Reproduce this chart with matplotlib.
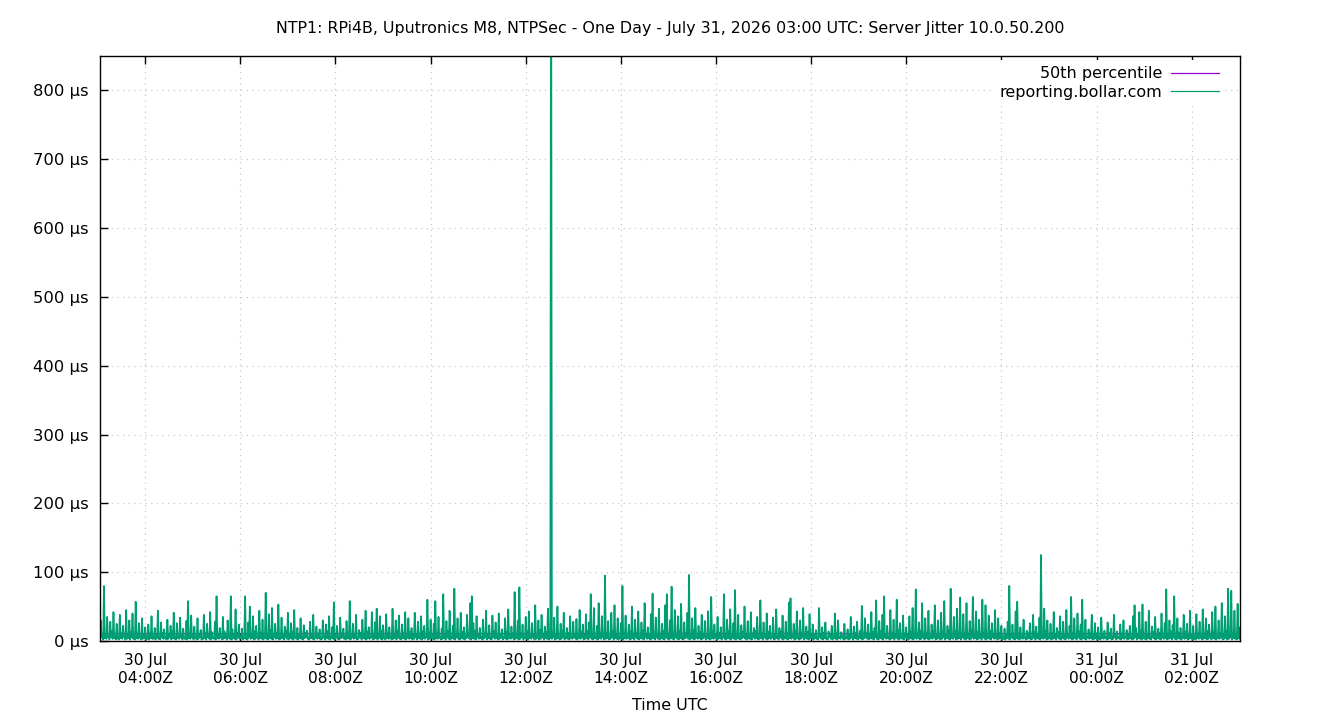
import numpy as np
import pandas as pd
import matplotlib
matplotlib.use("Agg")
import matplotlib.pyplot as plt

plt.rcParams['font.family'] = ['DejaVu Sans']

title = "NTP1: RPi4B, Uputronics M8, NTPSec - One Day - July 31, 2026 03:00 UTC: Server Jitter 10.0.50.200"
start_time = "2026-07-30 03:02"
sample_minutes = 1
median_us = 11

# jitter in microseconds, one row per hour (1-minute samples)
jitter_us = [
    12,3, 30,5, 6,2, 80,4, 9,3, 35,6, 4,2, 28,5, 14,3, 42,4, 7,2, 25,5, 3,2, 38,4, 11,3, 22,6, 5,2, 45,3, 8,4, 30,2, 13,5, 40,3, 6,2, 57,4, 10,3, 26,5, 4,2, 33,3, 9,4, 20,2,
    5,3, 24,2, 11,4, 36,3, 3,5, 19,2, 8,4, 44,3, 6,2, 27,5, 12,3, 17,4, 4,2, 31,3, 9,5, 22,2, 14,4, 41,3, 5,2, 26,4, 7,3, 34,5, 10,2, 18,4, 3,3, 29,2, 58,4, 12,3, 37,5, 8,2,
    21,4, 6,2, 33,3, 9,5, 16,2, 4,3, 38,4, 11,2, 25,5, 7,3, 42,2, 13,4, 5,3, 28,2, 65,4, 10,3, 19,5, 6,2, 35,3, 14,4, 8,2, 30,5, 4,3, 65,2, 17,4, 9,3, 46,2, 12,5, 24,3, 7,4,
    18,2, 5,4, 65,3, 10,2, 27,5, 50,3, 8,4, 36,2, 14,3, 22,5, 6,2, 44,4, 11,3, 31,2, 4,5, 70,3, 9,2, 39,4, 16,3, 48,2, 7,5, 25,3, 12,4, 53,2, 5,3, 34,4, 10,2, 21,5, 15,3, 41,2,
    8,4, 26,3, 13,2, 45,5, 4,3, 19,2, 10,4, 33,3, 6,2, 23,4, 12,5, 15,3, 3,2, 28,4, 9,3, 38,2, 5,5, 21,3, 11,4, 17,2, 4,3, 30,5, 7,2, 24,4, 14,3, 36,2, 6,4, 20,3, 56,2, 9,5,
    22,3, 5,2, 34,4, 11,5, 18,3, 7,2, 29,4, 13,3, 58,2, 6,5, 25,3, 9,4, 38,2, 4,3, 16,5, 12,2, 31,4, 8,3, 44,2, 14,4, 20,3, 5,5, 42,2, 10,3, 27,4, 47,2, 9,5, 36,3, 15,2, 23,4,
    6,2, 39,4, 12,3, 20,5, 4,2, 47,3, 9,4, 30,2, 15,5, 37,3, 7,2, 24,4, 11,3, 42,2, 5,5, 33,3, 13,4, 19,2, 8,3, 41,5, 10,2, 28,4, 4,3, 36,2, 14,4, 22,3, 6,5, 60,2, 11,3, 31,4,
    8,3, 25,2, 58,4, 12,3, 35,5, 5,2, 18,3, 68,4, 9,2, 29,5, 14,3, 44,2, 6,4, 22,3, 76,2, 10,5, 33,3, 4,2, 41,4, 13,3, 20,2, 7,4, 38,5, 11,3, 55,2, 65,4, 26,3, 15,2, 36,5, 9,3,
    19,4, 6,2, 31,3, 12,5, 44,2, 8,4, 23,3, 4,2, 37,5, 14,3, 27,4, 7,2, 40,3, 10,5, 17,2, 5,4, 33,3, 13,2, 46,4, 9,3, 21,5, 11,2, 71,3, 6,4, 30,2, 78,3, 12,5, 24,2, 5,4, 35,3,
    14,2, 43,4, 7,3, 26,5, 10,2, 52,3, 5,4, 30,2, 16,3, 38,5, 9,2, 21,4, 13,3, 47,2, 6,4, 1200,3, 11,5, 34,2, 8,3, 50,4, 4,2, 25,3, 15,5, 41,2, 7,4, 19,3, 12,2, 36,4, 5,3, 28,5,
    10,3, 32,2, 6,4, 45,3, 13,5, 24,2, 8,3, 39,4, 15,2, 27,5, 68,3, 9,2, 48,4, 5,3, 22,2, 55,4, 11,3, 36,5, 7,2, 95,3, 12,4, 29,2, 4,3, 41,5, 14,2, 52,4, 9,3, 33,2, 6,4, 26,3,
    80,2, 11,4, 37,3, 6,5, 24,2, 14,3, 50,4, 8,2, 31,5, 12,3, 43,2, 5,4, 27,3, 16,2, 55,5, 9,3, 20,4, 7,2, 39,3, 69,4, 13,2, 34,5, 6,3, 47,2, 10,4, 25,3, 15,2, 52,5, 68,3, 8,2,
    30,4, 79,3, 12,2, 45,5, 7,3, 36,2, 14,4, 54,3, 5,2, 27,4, 11,5, 41,3, 96,2, 9,4, 33,3, 16,2, 48,5, 6,3, 22,4, 13,2, 38,3, 8,5, 29,2, 4,4, 43,3, 10,2, 64,4, 15,3, 24,5, 7,2,
    35,3, 12,4, 20,2, 6,5, 68,3, 9,2, 31,4, 14,3, 46,2, 5,5, 26,3, 74,2, 10,4, 38,3, 7,2, 23,4, 13,5, 50,3, 8,2, 29,4, 4,3, 42,2, 11,5, 19,3, 15,4, 35,2, 6,3, 59,4, 12,2, 27,5,
    8,3, 40,2, 13,4, 22,3, 5,5, 34,2, 10,3, 46,4, 7,2, 19,5, 14,3, 37,2, 6,4, 28,3, 11,2, 56,4, 62,3, 9,5, 25,2, 15,3, 43,4, 5,2, 30,3, 12,5, 48,2, 8,4, 21,3, 13,2, 39,4, 6,3,
    24,2, 10,4, 16,3, 5,2, 48,5, 8,3, 20,2, 12,4, 27,3, 4,2, 14,5, 9,3, 22,2, 6,4, 40,3, 11,2, 30,4, 5,3, 13,5, 8,2, 25,3, 4,4, 17,2, 10,3, 35,5, 6,2, 21,4, 12,3, 28,2, 7,4,
    15,3, 51,2, 6,4, 33,5, 11,3, 24,2, 8,4, 42,3, 13,2, 19,5, 59,3, 7,2, 29,4, 14,3, 38,2, 65,5, 10,3, 22,4, 5,2, 45,3, 12,4, 31,2, 8,5, 60,3, 16,2, 26,4, 4,3, 37,2, 11,5, 20,3,
    9,2, 36,4, 13,3, 48,2, 6,5, 75,3, 11,4, 27,2, 15,3, 55,5, 8,2, 33,4, 12,3, 44,2, 5,4, 24,3, 14,5, 52,2, 9,3, 30,4, 7,2, 41,3, 13,5, 58,2, 10,4, 22,3, 16,2, 76,4, 6,3, 35,5,
    14,2, 47,3, 10,4, 63,2, 7,5, 39,3, 12,2, 55,4, 9,3, 29,2, 16,5, 64,3, 6,4, 43,2, 13,3, 31,4, 8,2, 60,5, 11,3, 52,2, 5,4, 37,3, 15,2, 26,5, 9,3, 45,4, 7,2, 33,3, 12,4, 22,2,
    6,3, 18,2, 10,4, 28,3, 80,2, 9,5, 24,3, 5,2, 43,4, 57,3, 12,2, 20,4, 7,3, 31,5, 4,2, 15,3, 11,4, 26,2, 6,3, 38,5, 13,2, 21,4, 8,3, 34,2, 125,4, 10,3, 47,5, 14,2, 30,3, 5,4,
    25,2, 11,3, 42,4, 8,2, 19,5, 13,3, 36,2, 6,4, 28,3, 10,2, 45,5, 7,3, 22,4, 64,2, 12,3, 33,4, 5,2, 40,5, 14,3, 24,2, 60,4, 9,3, 31,2, 6,5, 17,3, 12,4, 38,2, 8,3, 26,4, 11,2,
    20,3, 6,2, 34,4, 10,3, 15,5, 4,2, 27,3, 12,4, 18,2, 7,3, 38,5, 9,2, 14,4, 5,3, 24,2, 11,4, 30,3, 6,5, 16,2, 9,3, 22,4, 4,2, 36,3, 52,5, 19,2, 8,4, 42,3, 15,2, 53,4, 7,3,
    28,2, 10,4, 44,3, 6,2, 21,5, 13,3, 35,2, 8,4, 18,3, 12,2, 40,5, 5,3, 26,4, 75,2, 9,3, 30,4, 14,2, 23,5, 65,3, 7,2, 33,4, 11,3, 19,2, 6,5, 38,3, 13,4, 25,2, 8,3, 44,4, 10,2,
    22,3, 7,2, 39,4, 12,3, 28,5, 5,2, 46,3, 10,4, 33,2, 15,3, 24,5, 8,2, 42,4, 13,3, 50,2, 6,4, 30,3, 11,5, 55,2, 9,3, 36,4, 14,2, 76,3, 10,5, 73,2, 12,4, 44,3, 8,2, 54,4, 20,3,
]

tick_times = ["2026-07-30 04:00", "2026-07-30 06:00", "2026-07-30 08:00", "2026-07-30 10:00",
              "2026-07-30 12:00", "2026-07-30 14:00", "2026-07-30 16:00", "2026-07-30 18:00",
              "2026-07-30 20:00", "2026-07-30 22:00", "2026-07-31 00:00", "2026-07-31 02:00"]
y_ticks = [0, 100, 200, 300, 400, 500, 600, 700, 800]
x_start = "2026-07-30 03:03"
x_end = "2026-07-31 03:01"
y_max = 850

times = pd.date_range(start_time, periods=len(jitter_us), freq=f"{sample_minutes}min")

fig = plt.figure(figsize=(13.4, 7.2), dpi=100)
ax = fig.add_axes([100/1340, 1-641/720, 1140/1340, 585/720])

green = "#009e73"
purple = "#9400d3"

ax.plot([pd.Timestamp(x_start), pd.Timestamp(x_end)], [median_us, median_us],
        color=purple, lw=0.8, zorder=2, label="50th percentile")
ax.plot(times, jitter_us, color=green, lw=1.25, zorder=3, label="reporting.bollar.com")

ax.set_xlim(pd.Timestamp(x_start), pd.Timestamp(x_end))
ax.set_ylim(0, y_max)

tt = [pd.Timestamp(t) for t in tick_times]
ax.set_xticks(tt)
ax.set_xticklabels([t.strftime("%d %b\n%H:%MZ") for t in tt], fontsize=11.2)
ax.set_yticks(y_ticks)
ax.set_yticklabels([f"{v} µs" for v in y_ticks], fontsize=11.8)

ax.tick_params(axis="x", direction="in", length=6, width=1, top=True, bottom=True, pad=9)
ax.tick_params(axis="y", direction="in", length=6, width=1, left=True, right=False, pad=8)
ax.grid(True, color="#c8c8c8", linestyle=(0, (1, 3.5)), linewidth=0.9)
ax.set_axisbelow(True)
for s in ax.spines.values():
    s.set_linewidth(1)
    s.set_color("black")
    s.set_zorder(6)

ax.set_xlabel("Time UTC", fontsize=11.4, labelpad=9)
fig.text(0.5, 1-29/720, title, ha="center", va="center", fontsize=11.4)

leg = ax.legend(loc="upper right", frameon=True, markerfirst=False, fontsize=11.5,
                handlelength=3.0, borderaxespad=0.0, borderpad=0.4, labelspacing=0.22,
                handletextpad=0.55, bbox_to_anchor=(1 - 15/1140, 1 - 4/585))
leg.get_frame().set_facecolor("white")
leg.get_frame().set_edgecolor("none")
leg.get_frame().set_alpha(1.0)
for line in leg.get_lines():
    line.set_linewidth(0.9)

fig.savefig("out.png", dpi=100)
